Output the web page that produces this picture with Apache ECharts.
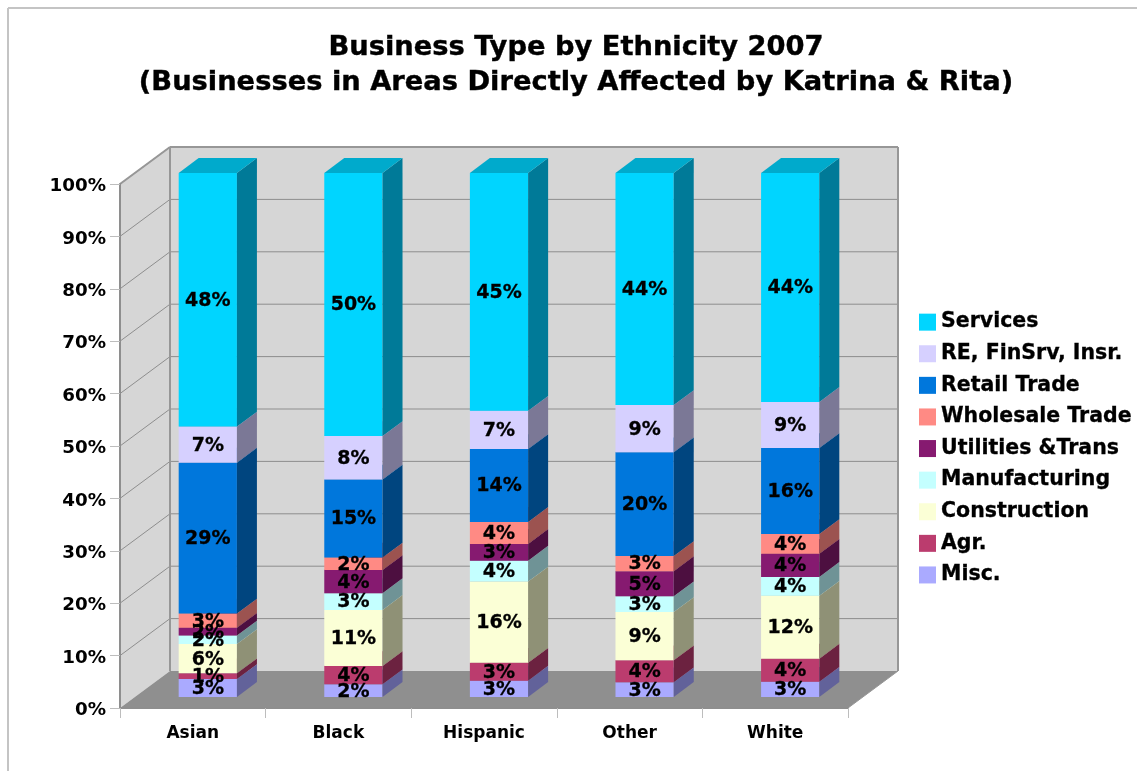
<!DOCTYPE html>
<html>
<head>
<meta charset="utf-8">
<style>html,body{margin:0;padding:0;background:#fff}#chart{width:1137px;height:771px}</style>
<script src="https://cdn.jsdelivr.net/npm/echarts@6/dist/echarts.min.js"></script>
</head>
<body>
<div id="chart"></div>
<script>
// Share of businesses by type, percent of each group, stacked bottom to top
const categories = ['Asian', 'Black', 'Hispanic', 'Other', 'White'];
const misc          = [3.4, 2.4, 3.1, 2.8, 2.9];
const agr           = [1.1, 3.5, 3.4, 4.2, 4.4];
const construction  = [5.6, 10.7, 15.5, 9.2, 12.0];
const manufacturing = [1.6, 3.2, 4.0, 3.0, 3.6];
const utilities     = [1.5, 4.4, 3.2, 4.8, 4.4];
const wholesale     = [2.7, 2.4, 4.2, 2.9, 3.8];
const retail        = [28.8, 14.9, 13.9, 19.8, 16.4];
const realEstate    = [6.9, 8.3, 7.3, 9.0, 8.8];
const services      = [48.4, 50.2, 45.4, 44.3, 43.7];
const axisTicks     = [0, 10, 20, 30, 40, 50, 60, 70, 80, 90, 100];

const segments = [
  { name: 'Misc.',           values: misc,          color: '#aaaaff', side: '#62629a', top: '#8888cc' },
  { name: 'Agr.',            values: agr,           color: '#bb3c6e', side: '#6c2240', top: '#963058' },
  { name: 'Construction',    values: construction,  color: '#fbffd6', side: '#8f9176', top: '#c9ccab' },
  { name: 'Manufacturing',   values: manufacturing, color: '#c4ffff', side: '#6f9396', top: '#9dcccc' },
  { name: 'Utilities &Trans',values: utilities,     color: '#861a70', side: '#4d0f40', top: '#6b155a' },
  { name: 'Wholesale Trade', values: wholesale,     color: '#ff8a84', side: '#9c5350', top: '#cc6e6a' },
  { name: 'Retail Trade',    values: retail,        color: '#0077dc', side: '#00457f', top: '#005fb0' },
  { name: 'RE, FinSrv, Insr.', values: realEstate,  color: '#d6d0ff', side: '#7b7896', top: '#aba6cc' },
  { name: 'Services',        values: services,      color: '#00d5ff', side: '#007a98', top: '#00aacc' }
];

// Oblique projection of the chart box: how far the back plane sits from the front plane
const DEPTH_X = 50, DEPTH_Y = -37;
const BAR_FRONT = 0.3, BAR_BACK = 0.7, BAR_WIDTH = 0.4;
const FONT = 'DejaVu Sans';

function poly(points, fill, z2) {
  return { type: 'polygon', z2: z2 || 0, shape: { points }, style: { fill } };
}

function renderWalls(params, api) {
  const g = params.coordSys;
  const L = g.x, R = g.x + g.width, T = g.y, B = g.y + g.height;
  const dx = DEPTH_X, dy = DEPTH_Y;
  const wall = '#d6d6d6', frame = '#979797';
  const seg = (x1, y1, x2, y2, w, c, z2) => ({
    type: 'line', z2: z2 || 2,
    shape: { x1, y1, x2, y2 },
    style: { stroke: c || '#8e8e8e', lineWidth: w || 1 }
  });
  const children = [
    poly([[L + dx, T + dy], [R + dx, T + dy], [R + dx, B + dy], [L + dx, B + dy]], wall),
    poly([[L, T], [L + dx, T + dy], [L + dx, B + dy], [L, B]], wall),
    poly([[L, B], [R, B], [R + dx, B + dy], [L + dx, B + dy]], '#8f8f8f', 1)
  ];
  axisTicks.slice(1).forEach(t => {
    const y = api.coord([0, t])[1];
    children.push(seg(L, y, L + dx, y + dy));
    children.push(seg(L + dx, y + dy, R + dx, y + dy));
  });
  children.push(seg(L, T, L + dx, T + dy, 2, frame, 3));
  children.push(seg(L + dx, T + dy, R + dx, T + dy, 2, frame, 3));
  children.push(seg(L + dx, T + dy, L + dx, B + dy, 2, frame, 3));
  children.push(seg(R + dx, T + dy, R + dx, B + dy, 2, frame, 3));
  children.push(seg(R, B, R + dx, B + dy, 1, frame, 3));
  return { type: 'group', children };
}

function renderSegment(seriesInfo) {
  return function (params, api) {
    const cat = api.value(0);
    const low = api.coord([cat, api.value(1)]);
    const high = api.coord([cat, api.value(2)]);
    const w = api.size([1, 0])[0] * BAR_WIDTH;
    const fx = DEPTH_X * BAR_FRONT, fy = DEPTH_Y * BAR_FRONT;
    const bx = DEPTH_X * (BAR_BACK - BAR_FRONT), by = DEPTH_Y * (BAR_BACK - BAR_FRONT);
    const x0 = low[0] - w / 2 + fx, x1 = x0 + w;
    const yb = low[1] + fy, yt = high[1] + fy;
    return {
      type: 'group',
      children: [
        { type: 'rect', shape: { x: x0, y: yt, width: w, height: yb - yt }, style: { fill: seriesInfo.color } },
        poly([[x1, yb], [x1 + bx, yb + by], [x1 + bx, yt + by], [x1, yt]], seriesInfo.side),
        poly([[x0, yt], [x0 + bx, yt + by], [x1 + bx, yt + by], [x1, yt]], seriesInfo.top)
      ]
    };
  };
}

// Value labels go in their own pass so that they sit above every bar face
function renderLabels(params, api) {
  const cat = api.value(0);
  const pt = api.coord([cat, (api.value(1) + api.value(2)) / 2]);
  return {
    type: 'text',
    style: {
      x: pt[0] + DEPTH_X * BAR_FRONT,
      y: pt[1] + DEPTH_Y * BAR_FRONT + 1,
      text: Math.round(api.value(2) - api.value(1)) + '%',
      fill: '#000',
      stroke: '#000',
      lineWidth: 0.3,
      font: 'bold 19px "' + FONT + '"',
      align: 'center',
      verticalAlign: 'middle'
    }
  };
}

// Cumulative start and end of every segment within its bar
const running = categories.map(() => 0);
const stacked = segments.map(s => s.values.map((v, i) => {
  const start = running[i];
  running[i] = Math.round((start + v) * 10) / 10;
  return [i, start, running[i]];
}));

const series = [{
  type: 'custom', silent: true, z: 1,
  coordinateSystem: 'cartesian2d',
  renderItem: renderWalls,
  data: [[0, 0]],
  encode: { x: 0, y: 1 }
}];
segments.forEach((s, k) => series.push({
  type: 'custom', name: s.name, z: 2, silent: true,
  coordinateSystem: 'cartesian2d',
  itemStyle: { color: s.color },
  renderItem: renderSegment(s),
  data: stacked[k],
  encode: { x: 0, y: [1, 2] }
}));
segments.forEach((s, k) => series.push({
  type: 'custom', z: 3, silent: true,
  coordinateSystem: 'cartesian2d',
  renderItem: renderLabels,
  data: stacked[k],
  encode: { x: 0, y: [1, 2] }
}));

const chart = echarts.init(document.getElementById('chart'), null, { renderer: 'canvas' });
chart.setOption({
  animation: false,
  backgroundColor: '#ffffff',
  title: {
    text: 'Business Type by Ethnicity 2007\n(Businesses in Areas Directly Affected by Katrina & Rita)',
    left: 571, top: 25, textAlign: 'center',
    textStyle: { fontFamily: FONT, fontWeight: 'bold', fontSize: 27.3, lineHeight: 35, color: '#000', textBorderColor: '#000', textBorderWidth: 0.4 }
  },
  legend: {
    orient: 'vertical', left: 914, top: 306.5,
    data: segments.map(s => s.name).reverse(),
    icon: 'rect', itemWidth: 17, itemHeight: 17, itemGap: 10.3,
    selectedMode: false,
    textStyle: { fontFamily: FONT, fontWeight: 'bold', fontSize: 20.5, lineHeight: 17, color: '#000', textBorderColor: '#000', textBorderWidth: 0.3 }
  },
  grid: { left: 120, top: 184, width: 728, height: 524, containLabel: false },
  xAxis: {
    type: 'category', data: categories, z: 5,
    axisLine: { lineStyle: { color: '#8e8e8e', width: 2 } },
    axisTick: { show: true, alignWithLabel: false, length: 10, lineStyle: { color: '#bdbdbd', width: 1 } },
    axisLabel: { fontFamily: FONT, fontWeight: 'bold', fontSize: 17, color: '#000', margin: 17 },
    splitLine: { show: false }
  },
  yAxis: {
    type: 'value', min: 0, max: 100, interval: 10, z: 5,
    axisLine: { show: true, lineStyle: { color: '#8e8e8e', width: 2 } },
    axisTick: { show: true, length: 10, lineStyle: { color: '#bdbdbd', width: 1 } },
    axisLabel: {
      formatter: '{shifted|{value}%}', margin: 14,
      rich: { shifted: { fontFamily: FONT, fontWeight: 'bold', fontSize: 18.3, color: '#000', padding: [5, 0, 0, 0] } }
    },
    splitLine: { show: false }
  },
  graphic: [
    { type: 'line', silent: true, shape: { x1: 8, y1: 8, x2: 1137, y2: 8 }, style: { stroke: '#c4c4c4', lineWidth: 2 } },
    { type: 'line', silent: true, shape: { x1: 8, y1: 8, x2: 8, y2: 771 }, style: { stroke: '#c4c4c4', lineWidth: 2 } }
  ],
  series
});
</script>
</body>
</html>
